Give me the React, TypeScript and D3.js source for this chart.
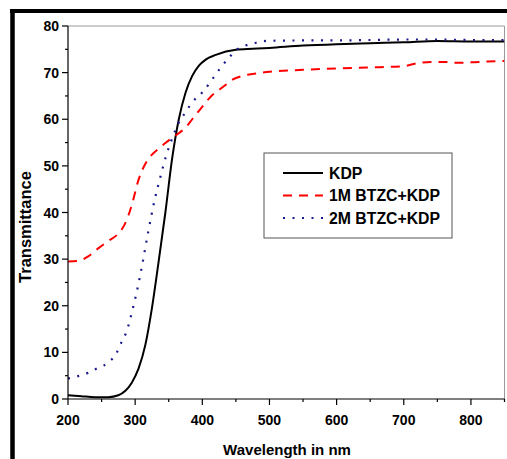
import React from "react";
import * as d3 from "d3";

const kdpW = [200, 220, 240, 260, 275, 285, 295, 305, 315, 325, 335, 345, 355, 365, 375, 385, 395, 405, 420, 450, 475, 500, 550, 600, 650, 700, 750, 800, 850];
const kdpV = [0.8, 0.6, 0.4, 0.4, 0.8, 1.7, 3.5, 6.5, 11.5, 19.5, 29.5, 40, 51.5, 60, 65.7, 69.3, 71.5, 72.8, 73.8, 74.9, 75.1, 75.3, 75.8, 76.1, 76.3, 76.5, 76.8, 76.7, 76.7];

const btz1W = [200, 215, 230, 245, 260, 275, 285, 295, 305, 315, 325, 335, 345, 355, 365, 375, 385, 395, 405, 415, 425, 435, 445, 460, 480, 500, 550, 600, 650, 700, 720, 740, 760, 780, 800, 825, 850];
const btz1V = [29.5, 29.6, 30.6, 32.3, 33.9, 35.5, 37.6, 41.6, 47, 50.4, 52.4, 53.7, 54.9, 56, 57, 58.2, 60, 61.8, 63.6, 65.2, 66.3, 67.4, 68.5, 69.3, 69.8, 70.2, 70.6, 70.9, 71.1, 71.4, 72, 72.3, 72.3, 72.1, 72.2, 72.4, 72.5];

const btz2W = [200, 215, 230, 245, 260, 272, 280, 287, 296, 303, 310, 319, 329, 337, 346, 357, 364, 374, 386, 401, 414, 426, 439, 451, 466, 480, 496, 550, 600, 650, 700, 750, 800, 850];
const btz2V = [4.4, 4.9, 5.6, 6.7, 7.8, 9.8, 12.3, 14.4, 19.1, 23.4, 28.4, 35.5, 42.7, 47.3, 52.1, 56.6, 59, 61.3, 63.8, 65.9, 68.4, 70.8, 73.1, 74.9, 75.9, 76.4, 76.8, 76.9, 76.9, 77, 77.1, 77.1, 77.0, 77.0];

const xTicks = [200, 300, 400, 500, 600, 700, 800];
const xMinor = [250, 350, 450, 550, 650, 750, 850];
const yTicks = [0, 10, 20, 30, 40, 50, 60, 70, 80];
const yMinor = [5, 15, 25, 35, 45, 55, 65, 75];

const seriesNames = ["KDP", "1M BTZC+KDP", "2M BTZC+KDP"];

export default function App() {
  const W = 507, H = 459;
  const left = 68, right = 504.5, top = 26, bottom = 399;
  const x = d3.scaleLinear().domain([200, 850]).range([left, right]);
  const y = d3.scaleLinear().domain([0, 80]).range([bottom, top]);
  const line = (ws: number[], vs: number[]) =>
    d3.line<number>().x((_, i) => x(ws[i])).y((d) => y(d)).curve(d3.curveMonotoneX)(vs) || "";

  const series = [
    { name: seriesNames[0], d: line(kdpW, kdpV), color: "#000000", dash: "none", w: 2 },
    { name: seriesNames[1], d: line(btz1W, btz1V), color: "#ff0000", dash: "9,7", w: 2 },
    { name: seriesNames[2], d: line(btz2W, btz2V), color: "#1a1a8c", dash: "2,7.5", w: 2.2 },
  ];

  const font = "'Liberation Sans', Arial, sans-serif";
  const legX = 264, legY = 153, legW = 188, legH = 85;
  const rowsY = [173, 195.5, 218];

  return (
    <svg width={W} height={H} style={{ position: "absolute", left: 0, top: 0, background: "#fff" }} fontFamily={font}>
      <rect x={0} y={0} width={W} height={H} fill="#fff" />
      {/* outer frame */}
      <line x1={12.5} y1={9} x2={12.5} y2={H} stroke="#000" strokeWidth={4.5} />
      <line x1={10} y1={11} x2={W} y2={11} stroke="#000" strokeWidth={4} />

      {/* top & right frame */}
      <line x1={left} y1={top} x2={right} y2={top} stroke="#999" strokeWidth={1} />
      <line x1={right} y1={top} x2={right} y2={bottom} stroke="#999" strokeWidth={1} />

      <defs>
        <clipPath id="clip">
          <rect x={left} y={top - 5} width={right - left} height={bottom - top + 5} />
        </clipPath>
      </defs>
      {/* curves */}
      <g clipPath="url(#clip)">
        {series.map((s) => (
          <path key={s.name} d={s.d} fill="none" stroke={s.color} strokeWidth={s.w}
            strokeDasharray={s.dash} strokeLinecap="butt" />
        ))}
      </g>

      {/* axes */}
      <line x1={left} y1={top} x2={left} y2={bottom} stroke="#000" strokeWidth={1.2} />
      <line x1={left} y1={bottom} x2={right} y2={bottom} stroke="#000" strokeWidth={1.2} />
      {yTicks.map((t) => (
        <g key={"y" + t}>
          <line x1={left - 6} x2={left} y1={y(t)} y2={y(t)} stroke="#000" strokeWidth={1.2} />
          <text x={left - 9} y={y(t)} dy="0.36em" textAnchor="end" fontSize={14} fontWeight="bold">{t}</text>
        </g>
      ))}
      {yMinor.map((t) => (
        <line key={"ym" + t} x1={left - 3} x2={left} y1={y(t)} y2={y(t)} stroke="#000" strokeWidth={1.2} />
      ))}
      {xTicks.map((t) => (
        <g key={"x" + t}>
          <line x1={x(t)} x2={x(t)} y1={bottom} y2={bottom + 6} stroke="#000" strokeWidth={1.2} />
          <text x={x(t)} y={425} textAnchor="middle" fontSize={14} fontWeight="bold">{t}</text>
        </g>
      ))}
      {xMinor.map((t) => (
        <line key={"xm" + t} x1={x(t)} x2={x(t)} y1={bottom} y2={bottom + 3} stroke="#000" strokeWidth={1.2} />
      ))}

      <text x={287} y={455} textAnchor="middle" fontSize={15} fontWeight="bold">Wavelength in nm</text>
      <text transform={`translate(31,227) rotate(-90)`} textAnchor="middle" fontSize={16.5} fontWeight="bold">Transmittance</text>

      {/* legend */}
      <rect x={legX} y={legY} width={legW} height={legH} fill="#fff" stroke="#555" strokeWidth={1} />
      {series.map((s, i) => (
        <g key={"l" + s.name}>
          <line x1={283} x2={323} y1={rowsY[i]} y2={rowsY[i]} stroke={s.color} strokeWidth={s.w}
            strokeDasharray={s.dash} />
          <text x={329} y={rowsY[i]} dy="0.36em" fontSize={15.8} fontWeight="bold">{s.name}</text>
        </g>
      ))}
    </svg>
  );
}
